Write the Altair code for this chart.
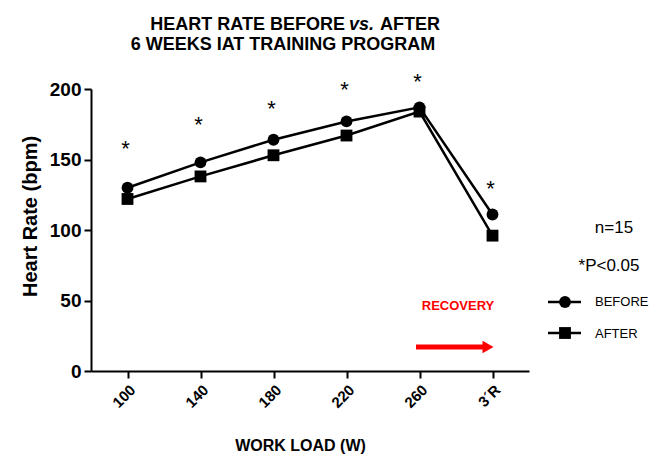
import altair as alt
import pandas as pd

loads = ["100", "140", "180", "220", "260", "3´R"]
before = [130, 148, 164, 177, 187, 111]
after = [122, 138, 153, 167, 184, 96]
star_y = [160, 177, 189, 202, 208, 132]
series_names = ["BEFORE", "AFTER"]
y_ticks = [0, 50, 100, 150, 200]

rows = []
for s, vals in zip(series_names, [before, after]):
    for l, v in zip(loads, vals):
        rows.append({"load": l, "hr": v, "series": s})
df = pd.DataFrame(rows)
stars = pd.DataFrame({"load": loads, "y": star_y, "t": ["*"] * len(loads)})
one = pd.DataFrame({"a": [0]})

FONT = "Liberation Sans"

xenc = alt.X("load:N", sort=loads, scale=alt.Scale(type="point", padding=0.5),
             axis=alt.Axis(title="WORK LOAD (W)", labelAngle=-45, labelFontSize=15,
                           labelFontWeight="bold", labelFont=FONT, labelColor="black",
                           titleFont=FONT, titleFontSize=16, titleFontWeight="bold",
                           titleColor="black", titleY=74, titleX=209, titleBaseline="middle",
                           domainColor="black", domainWidth=2, tickColor="black",
                           tickWidth=2, tickSize=7, labelPadding=4))
yenc = alt.Y("hr:Q", scale=alt.Scale(domain=[0, 200], nice=False),
             axis=alt.Axis(title="Heart Rate (bpm)", values=y_ticks, labelFontSize=19,
                           labelFontWeight="bold", labelFont=FONT, labelColor="black",
                           titleFont=FONT, titleFontSize=20, titleFontWeight="bold",
                           titleColor="black", titleX=-61, titleY=127, titleAngle=-90,
                           titleAlign="center", titleBaseline="middle",
                           domainColor="black", domainWidth=2, tickColor="black",
                           tickWidth=2, tickSize=7, grid=False, labelPadding=3))

lines = alt.Chart(df).mark_line(color="black", strokeWidth=2.5).encode(
    x=xenc, y=yenc, detail="series:N")
pts = alt.Chart(df).mark_point(filled=True, color="black", opacity=1, size=140).encode(
    x=alt.X("load:N", sort=loads), y="hr:Q",
    shape=alt.Shape("series:N", scale=alt.Scale(domain=series_names, range=["circle", "square"]),
                    legend=None))
star_layer = alt.Chart(stars).mark_text(fontSize=22, font=FONT, color="black",
                                        baseline="middle", dy=4, dx=-2).encode(
    x=alt.X("load:N", sort=loads), y=alt.Y("y:Q"), text="t:N")

def txt(s, x, y, size=15, weight="normal", color="black", align="center", font=FONT):
    return alt.Chart(one).mark_text(text=s, fontSize=size, fontWeight=weight, color=color,
                                    align=align, baseline="middle", font=font).encode(
        x=alt.value(x), y=alt.value(y))

legend_layers = [
    txt("n=15", 523, 139, 17),
    txt("*P<0.05", 518, 177, 17),
    txt("BEFORE", 504, 213, 13, align="left"),
    txt("AFTER", 504, 245, 13, align="left"),
    alt.Chart(one).mark_rule(color="black", strokeWidth=2.5).encode(
        x=alt.value(457), x2=alt.value(490), y=alt.value(213)),
    alt.Chart(one).mark_rule(color="black", strokeWidth=2.5).encode(
        x=alt.value(457), x2=alt.value(490), y=alt.value(244)),
    alt.Chart(one).mark_point(shape="circle", filled=True, color="black", opacity=1, size=140).encode(
        x=alt.value(474), y=alt.value(213)),
    alt.Chart(one).mark_point(shape="square", filled=True, color="black", opacity=1, size=140).encode(
        x=alt.value(474), y=alt.value(244)),
    txt("RECOVERY", 367, 217, 13, weight="bold", color="red",
        font="Liberation Sans Narrow, Liberation Sans"),
    alt.Chart(one).mark_rule(color="red", strokeWidth=5).encode(
        x=alt.value(325), x2=alt.value(392), y=alt.value(258)),
    alt.Chart(one).mark_point(shape="triangle-right", filled=True, color="red", opacity=1, size=160).encode(
        x=alt.value(397), y=alt.value(258)),
]

TS = 18
title_layers = [
    txt("HEART RATE BEFORE", 254, -64.5, TS, weight="bold", align="right"),
    alt.Chart(one).mark_text(text="vs.", fontSize=TS, fontWeight="bold", fontStyle="italic",
                             color="black", align="left", baseline="middle", font=FONT).encode(
        x=alt.value(258), y=alt.value(-64.5)),
    txt("AFTER", 289, -64.5, TS, weight="bold", align="left"),
    txt("6 WEEKS IAT TRAINING PROGRAM", 192, -44, TS, weight="bold"),
]

chart = alt.layer(lines, pts, star_layer, *legend_layers, *title_layers).properties(
    width=438, height=282,
    autosize=alt.AutoSizeParams(type="none"),
    padding={"left": 83, "top": 81, "right": 120, "bottom": 83},
).configure_view(stroke=None)

chart.save("out.html", embed_options={"renderer": "svg", "actions": False})
